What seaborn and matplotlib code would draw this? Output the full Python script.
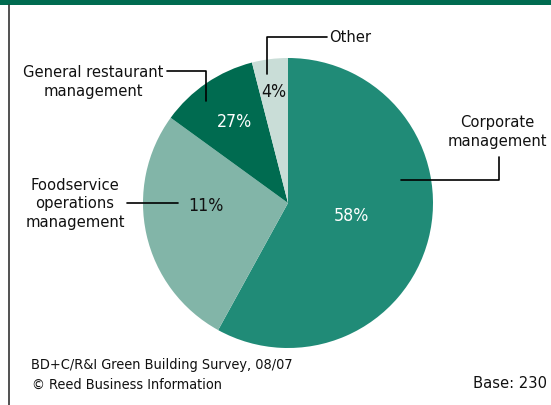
import matplotlib
matplotlib.use("Agg")
import matplotlib.pyplot as plt
import seaborn as sns

# ==================================================
# DATA
# ==================================================

categories = [
    "Corporate\nmanagement",
    "Foodservice\noperations\nmanagement",
    "General restaurant\nmanagement",
    "Other",
]

shares = [58, 27, 11, 4]

# percent labels as printed on the chart
pct_labels = ["58%", "11%", "27%", "4%"]

colors = ["#208b77", "#82b5a8", "#006b50", "#c9ddd7"]

footer_source = "BD+C/R&I Green Building Survey, 08/07"
footer_copy = "\u00a9 Reed Business Information"
base_text = "Base: 230"

# ==================================================
# STYLE
# ==================================================

sns.set_theme(style="white")
plt.rcParams["font.family"] = ["DejaVu Sans"]
plt.rcParams["font.stretch"] = "condensed"

W, H = 551, 406

fig = plt.figure(figsize=(W / 100, H / 100), dpi=100)
ax = fig.add_axes([0, 0, 1, 1])


def Y(y):
    # image rows -> axes coords
    return H - y


# ==================================================
# PIE
# ==================================================

wedges, _ = ax.pie(
    shares,
    colors=colors,
    startangle=90,
    counterclock=False,
    center=(288, Y(204)),
    radius=145,
    frame=True,
    wedgeprops=dict(linewidth=0),
)
ax.set_xlim(0, W)
ax.set_ylim(0, H)
ax.set_aspect("equal")
ax.axis("off")

# frame: top band + left rule
ax.add_patch(plt.Rectangle((0, Y(6)), W, 6, color="#006b50", lw=0))
ax.plot([8.5, 8.5], [0, Y(6)], color="#333333", lw=1.2)

# ==================================================
# LABELS
# ==================================================

fs = 11.75
pfs = 12.7
txt = "#111111"
line_kw = dict(color="black", lw=1.2)
ls = 1.3

# percentages
ax.text(351, Y(216), pct_labels[0], color="white", fontsize=pfs,
        ha="center", va="center")
ax.text(206, Y(206), pct_labels[1], color=txt, fontsize=pfs,
        ha="center", va="center")
ax.text(234, Y(122), pct_labels[2], color="white", fontsize=pfs,
        ha="center", va="center")
ax.text(274, Y(92), pct_labels[3], color=txt, fontsize=pfs,
        ha="center", va="center")

# Corporate management
ax.text(497, Y(132), categories[0], fontsize=fs, ha="center",
        va="center", linespacing=ls, color=txt)
ax.plot([401, 499, 499], [Y(181), Y(181), Y(158)], **line_kw)

# Foodservice operations management
ax.text(75, Y(204), categories[1], fontsize=fs, ha="center",
        va="center", linespacing=ls, color=txt)
ax.plot([127, 178], [Y(204), Y(204)], **line_kw)

# General restaurant management
ax.text(93.5, Y(82), categories[2], fontsize=fs, ha="center",
        va="center", linespacing=ls, color=txt)
ax.plot([167, 206, 206], [Y(72), Y(72), Y(102)], **line_kw)

# Other
ax.text(329, Y(38), categories[3], fontsize=fs, ha="left", va="center",
        color=txt)
ax.plot([327, 267, 267], [Y(38), Y(38), Y(75)], **line_kw)

# footer
ax.text(31, Y(365), footer_source, fontsize=10.4, ha="left",
        va="center", color=txt)
ax.text(32, Y(385), footer_copy, fontsize=10.4, ha="left",
        va="center", color=txt)
ax.text(547, Y(384), base_text, fontsize=fs, ha="right", va="center",
        color=txt)

fig.savefig("out.png", dpi=100)
